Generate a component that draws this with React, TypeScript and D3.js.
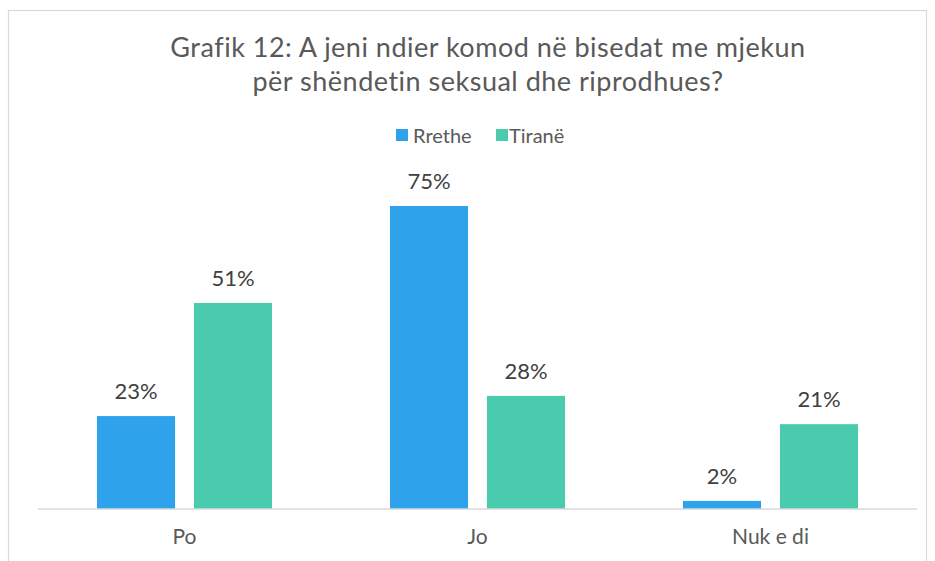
import React from 'react';
import * as d3 from 'd3';

const categories = ['Po', 'Jo', 'Nuk e di'];
const seriesNames = ['Rrethe', 'Tiranë'];
const rrethe = [23, 75, 2];
const tirane = [51, 28, 21];
const colors = ['#2EA3EB', '#4BCBAD'];

const W = 935;
const H = 561;
const font = 'Lato, "Open Sans", sans-serif';
const textColor = '#595959';

const App: React.FC = () => {
    const margin = { left: 38, right: 18, top: 0, bottom: 52 };
    const baseY = H - margin.bottom;

    const x = d3
        .scaleBand()
        .domain(categories)
        .range([margin.left, W - margin.right])
        .paddingInner(0)
        .paddingOuter(0);

    const groupW = 175;
    const inner = d3
        .scaleBand()
        .domain(seriesNames)
        .range([0, groupW])
        .paddingInner(19 / 97.5)
        .paddingOuter(0);

    // 75% -> 303px
    const y = d3.scaleLinear().domain([0, 75]).range([baseY, baseY - 303]);

    const series = [rrethe, tirane];

    return (
        <svg width={W} height={H} style={{ position: 'absolute', left: 0, top: 0 }}>
            <rect x={0} y={0} width={W} height={H} fill="#fff" />
            <rect x={8.5} y={10.5} width={918} height={H} fill="#fff" stroke="#d9d9d9" strokeWidth={1.2} />

            <g fontFamily={font} fill={textColor} textAnchor="middle" fontSize={27} letterSpacing={0.5}>
                <text x={488} y={57}>Grafik 12: A jeni ndier komod në bisedat me mjekun</text>
                <text x={488} y={91}>për shëndetin seksual dhe riprodhues?</text>
            </g>

            {/* legend */}
            <g fontFamily={font} fontSize={20} fill={textColor}>
                <rect x={396} y={129} width={12} height={12} fill={colors[0]} />
                <text x={413} y={143}>{seriesNames[0]}</text>
                <rect x={496} y={129} width={12} height={12} fill={colors[1]} />
                <text x={509} y={143}>{seriesNames[1]}</text>
            </g>

            {categories.map((c, i) => {
                const gx = (x(c) as number) + (x.bandwidth() - groupW) / 2;
                return (
                    <g key={c}>
                        {seriesNames.map((s, j) => {
                            const v = series[j][i];
                            const bx = gx + (inner(s) as number);
                            return (
                                <g key={s}>
                                    <rect
                                        x={bx}
                                        y={y(v)}
                                        width={inner.bandwidth()}
                                        height={baseY - y(v)}
                                        fill={colors[j]}
                                    />
                                    <text
                                        x={bx + inner.bandwidth() / 2}
                                        y={y(v) - 17}
                                        textAnchor="middle"
                                        fontFamily={font}
                                        fontSize={22}
                                        fill="#404040"
                                    >
                                        {v}%
                                    </text>
                                </g>
                            );
                        })}
                        <text
                            x={(x(c) as number) + x.bandwidth() / 2}
                            y={baseY + 35}
                            textAnchor="middle"
                            fontFamily={font}
                            fontSize={21}
                            fill={textColor}
                        >
                            {c}
                        </text>
                    </g>
                );
            })}

            <line x1={margin.left} x2={W - margin.right} y1={baseY} y2={baseY} stroke="#d9d9d9" strokeWidth={1.5} />
        </svg>
    );
};

export default App;
